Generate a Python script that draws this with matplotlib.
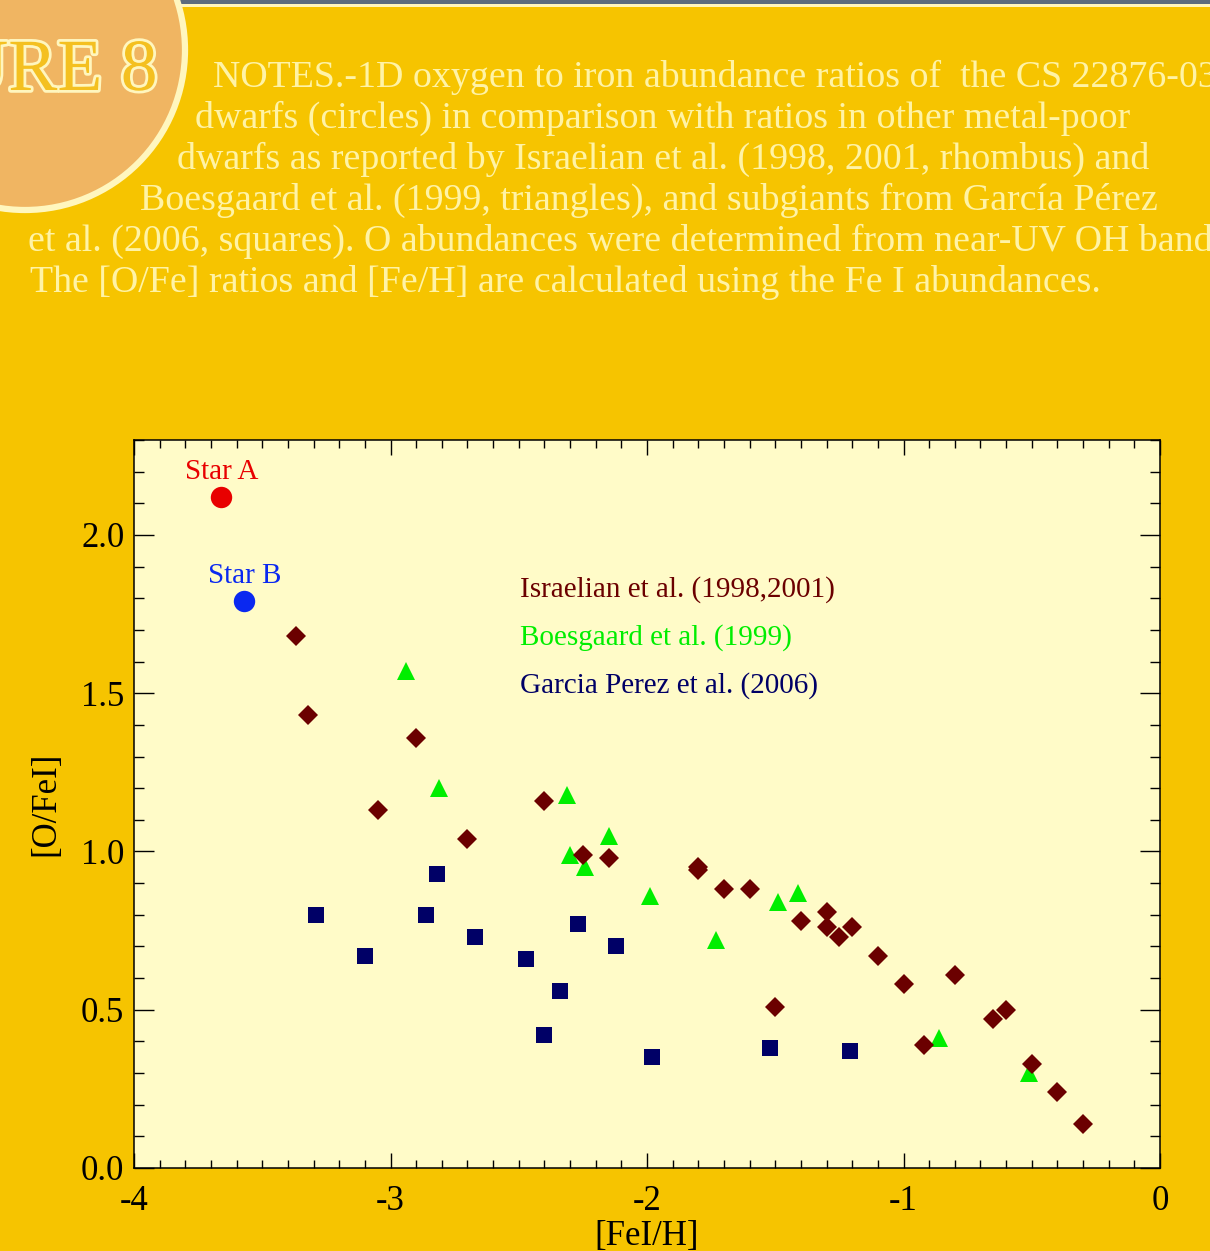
import numpy as np
import matplotlib
matplotlib.use("Agg")
import matplotlib.pyplot as plt
import matplotlib.patheffects as pe
from matplotlib.patches import Circle, Rectangle
from matplotlib.ticker import MultipleLocator, FormatStrFormatter

# ── data ─────────────────────────────────────────────────────────────────
star_names = ["Star A", "Star B"]
star_feh = [-3.66, -3.57]
star_ofe = [2.12, 1.79]
star_colors = ["#E80000", "#0A28F0"]

israelian_feh = [-3.37, -3.32, -3.05, -2.90, -2.70, -2.40, -2.25, -2.15,
                 -1.80, -1.80, -1.70, -1.60, -1.50, -1.40, -1.30, -1.30,
                 -1.25, -1.20, -1.10, -1.00, -0.92, -0.80, -0.65, -0.60,
                 -0.50, -0.40, -0.30]
israelian_ofe = [1.68, 1.43, 1.13, 1.36, 1.04, 1.16, 0.99, 0.98,
                 0.95, 0.94, 0.88, 0.88, 0.51, 0.78, 0.81, 0.76,
                 0.73, 0.76, 0.67, 0.58, 0.39, 0.61, 0.47, 0.50,
                 0.33, 0.24, 0.14]

boesgaard_feh = [-2.94, -2.81, -2.31, -2.30, -2.24, -2.15, -1.99, -1.73,
                 -1.49, -1.41, -0.86, -0.51]
boesgaard_ofe = [1.57, 1.20, 1.18, 0.99, 0.95, 1.05, 0.86, 0.72,
                 0.84, 0.87, 0.41, 0.30]

garcia_feh = [-3.29, -3.10, -2.86, -2.82, -2.67, -2.47, -2.40, -2.34,
              -2.27, -2.12, -1.98, -1.52, -1.21]
garcia_ofe = [0.80, 0.67, 0.80, 0.93, 0.73, 0.66, 0.42, 0.56,
              0.77, 0.70, 0.35, 0.38, 0.37]

legend_labels = ["Israelian et al. (1998,2001)",
                 "Boesgaard et al. (1999)",
                 "Garcia Perez et al. (2006)"]

notes_lines = [
    "NOTES.-1D oxygen to iron abundance ratios of  the CS 22876-032",
    "dwarfs (circles) in comparison with ratios in other metal-poor",
    "dwarfs as reported by Israelian et al. (1998, 2001, rhombus) and",
    "Boesgaard et al. (1999, triangles), and subgiants from García Pérez",
    "et al. (2006, squares). O abundances were determined from near-UV OH bands.",
    "The [O/Fe] ratios and [Fe/H] are calculated using the Fe I abundances.",
]

# ── colours ──────────────────────────────────────────────────────────────
BG = "#F6C400"
PANEL = "#FFFBC8"
CREAM = "#FFF6BE"
TEXT_CREAM = "#FFF3A6"
C_ISR = "#6B0000"
C_BOE = "#00EE00"
C_GAR = "#000066"

W, H = 1210, 1251
plt.rcParams["axes.unicode_minus"] = False
plt.rcParams["font.family"] = ["Liberation Serif", "DejaVu Serif"]

fig = plt.figure(figsize=(W / 100, H / 100), dpi=100, facecolor=BG)

# background decoration in pixel coordinates
bg = fig.add_axes([0, 0, 1, 1], zorder=0)
bg.set_xlim(0, W)
bg.set_ylim(H, 0)
bg.axis("off")
bg.add_patch(Rectangle((0, 0), W, 4, color="#5C6C7E", lw=0))
bg.add_patch(Rectangle((0, 4), W, 2.5, color=CREAM, lw=0))
bg.add_patch(Circle((25, 50), 160, facecolor="#F0B562", edgecolor=CREAM,
                    lw=4.5, zorder=3))
bg.text(157, 90, "FIGURE 8", ha="right", va="baseline", fontsize=53,
        color="#F4C020", zorder=4,
        path_effects=[pe.withStroke(linewidth=4, foreground=CREAM)])

line_x = [213, 195, 177, 140, 28, 30]
line_y = [87, 128, 169, 210, 251, 292]
for txt, x, y in zip(notes_lines, line_x, line_y):
    bg.text(x, y, txt, ha="left", va="baseline", fontsize=27.3,
            color=TEXT_CREAM, zorder=4)

# ── main plot ────────────────────────────────────────────────────────────
ax = fig.add_axes([134 / W, 1 - 1168 / H, 1026 / W, 728 / H], zorder=2)
ax.set_facecolor(PANEL)

ax.plot(garcia_feh, garcia_ofe, ls="none", marker="s", ms=11.2,
        color=C_GAR, mew=0)
ax.plot(boesgaard_feh, boesgaard_ofe, ls="none", marker="^", ms=12.6,
        color=C_BOE, mew=0)
ax.plot(israelian_feh, israelian_ofe, ls="none", marker="D", ms=10,
        color=C_ISR, mew=0)
for name, x, y, c in zip(star_names, star_feh, star_ofe, star_colors):
    ax.plot(x, y, ls="none", marker="o", ms=15.4, color=c, mew=0)
    ax.annotate(name, (x, y), xytext=(0, 18), textcoords="offset points",
                ha="center", va="center", fontsize=21, color=c)

for i, (lab, c) in enumerate(zip(legend_labels, [C_ISR, C_BOE, C_GAR])):
    ax.text(0.376, 0.795 - i * 0.066, lab, transform=ax.transAxes,
            ha="left", va="center", fontsize=21, color=c)

ax.set_xlim(-4, 0)
ax.set_ylim(0, 2.3)
ax.xaxis.set_major_locator(MultipleLocator(1))
ax.xaxis.set_minor_locator(MultipleLocator(0.1))
ax.yaxis.set_major_locator(MultipleLocator(0.5))
ax.yaxis.set_minor_locator(MultipleLocator(0.1))
ax.xaxis.set_major_formatter(FormatStrFormatter("%d"))
ax.yaxis.set_major_formatter(FormatStrFormatter("%.1f"))
ax.tick_params(which="both", direction="in", top=True, right=True,
               width=1, colors="black", labelsize=25)
ax.tick_params(axis="x", which="major", length=10.8, pad=12)
ax.tick_params(axis="x", which="minor", length=5.8)
ax.tick_params(axis="y", which="major", length=14.4, pad=7)
ax.tick_params(axis="y", which="minor", length=7.2)
for s in ax.spines.values():
    s.set_linewidth(1.1)

ax.set_xlabel("[FeI/H]", fontsize=25, labelpad=2)
ax.set_ylabel("[O/FeI]", fontsize=25, labelpad=13)

fig.savefig("out.png", dpi=100, facecolor=BG)
